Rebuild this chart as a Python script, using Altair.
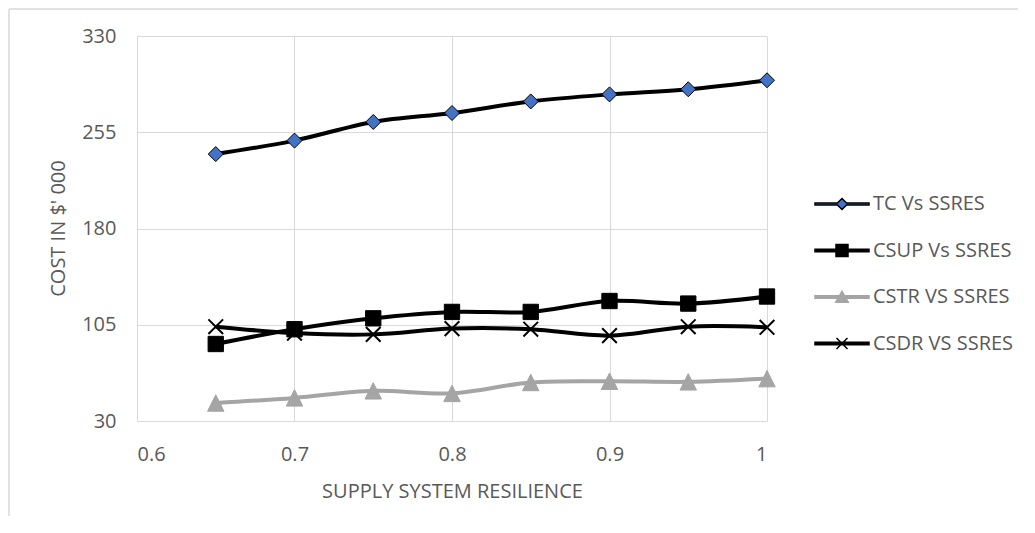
import altair as alt
import pandas as pd

# ---- data ----
x_vals = [0.65, 0.7, 0.75, 0.8, 0.85, 0.9, 0.95, 1.0]
tc = [238, 248.5, 263, 270, 279, 284.5, 288.5, 295.5]
csup = [90, 101.5, 110, 115, 115, 123.5, 121.5, 127]
cstr = [44, 48, 53.5, 51.5, 60, 61, 60.5, 63]
csdr = [103.5, 98.5, 97.5, 102, 101.5, 96.5, 103.5, 103]
series_names = ["TC Vs SSRES", "CSUP Vs SSRES", "CSTR VS SSRES", "CSDR VS SSRES"]
x_ticks = [0.6, 0.7, 0.8, 0.9, 1.0]
y_ticks = [30, 105, 180, 255, 330]

# ---- styles ----
line_colors = ["#000000", "#000000", "#A5A5A5", "#000000"]
marker_fills = ["#4472C4", "#000000", "#A5A5A5", "transparent"]
marker_strokes = ["#000000", "#000000", "#A5A5A5", "#000000"]
marker_shapes = ["diamond", "square", "M0,-1L1,1L-1,1Z", "M-1,-1L1,1M-1,1L1,-1"]
marker_sizes = [225, 235, 270, 215]
marker_stroke_widths = [1, 1, 1, 2]

# legend symbols: a line segment with the marker in its middle
legend_fills = ["#4472C4", "#000000", "#A5A5A5", "#000000"]
legend_strokes = ["#000000", "#000000", "#A5A5A5", "#000000"]
legend_shapes = [
    "M-5.4,-0.18L-0.92,-0.18L0,-1.1L0.92,-0.18L5.4,-0.18L5.4,0.18L0.92,0.18L0,1.1L-0.92,0.18L-5.4,0.18Z",
    "M-5.4,-0.25H5.4V0.25H-5.4ZM-1.2,-1.2H1.2V1.2H-1.2Z",
    "M-5.4,-0.25H5.4V0.25H-5.4ZM0,-1.15L1.25,1.05L-1.25,1.05Z",
    "M-5.4,-0.25H5.4V0.25H-5.4ZM-1.1,-1.1L1.1,1.1M-1.1,1.1L1.1,-1.1",
]

rows = []
for name, vals in zip(series_names, [tc, csup, cstr, csdr]):
    for xv, yv in zip(x_vals, vals):
        rows.append({"x": xv, "y": yv, "series": name})
df = pd.DataFrame(rows)

FONT = "Open Sans"
TXT = "#595959"
GRID = "#D9D9D9"

x_enc = alt.X("x:Q", scale=alt.Scale(domain=[0.6, 1.0], nice=False, zero=False),
              axis=alt.Axis(values=x_ticks, format="~g", title="SUPPLY SYSTEM RESILIENCE",
                            grid=True, gridColor=GRID, domain=False, ticks=False, tickSize=0,
                            labelPadding=23, labelFont=FONT, labelFontSize=20, labelColor=TXT,
                            titleFont=FONT, titleFontSize=20, titleColor=TXT, titleFontWeight="normal",
                            titleY=76, titleBaseline="alphabetic"))
y_enc = alt.Y("y:Q", scale=alt.Scale(domain=[30, 330], nice=False, zero=False),
              axis=alt.Axis(values=y_ticks, title="COST IN $' 000",
                            grid=True, gridColor=GRID, domain=False, ticks=False, tickSize=0,
                            labelPadding=21, labelFont=FONT, labelFontSize=20, labelColor=TXT,
                            titleFont=FONT, titleFontSize=20, titleColor=TXT, titleFontWeight="normal",
                            titleX=-73, titleY=192, titleBaseline="alphabetic"))

line_layers = []
point_layers = []
for i, name in enumerate(series_names):
    base = alt.Chart(df).transform_filter(alt.datum.series == name)
    line_layers.append(
        base.mark_line(interpolate="catmull-rom", strokeWidth=4, color=line_colors[i]).encode(
            x=x_enc, y=y_enc)
    )
    point_layers.append(
        base.mark_point(
            filled=True, opacity=1, shape=marker_shapes[i], size=marker_sizes[i],
            fill=marker_fills[i], stroke=marker_strokes[i], strokeWidth=marker_stroke_widths[i],
        ).encode(x="x:Q", y="y:Q")
    )

legend = alt.Legend(orient="none", legendX=695, legendY=158, title=None,
                    symbolSize=100, symbolStrokeWidth=1.5, symbolOpacity=1,
                    rowPadding=26.5, labelOffset=21, labelColor=TXT,
                    labelFont=FONT, labelFontSize=20, labelLimit=400)

# invisible marks whose only job is to carry the legend
legend_layer = alt.Chart(df).mark_point(filled=False, opacity=0).encode(
    x="x:Q", y="y:Q",
    color=alt.Color("series:N", scale=alt.Scale(domain=series_names, range=legend_strokes), legend=legend),
    fill=alt.Fill("series:N", scale=alt.Scale(domain=series_names, range=legend_fills), legend=legend),
    shape=alt.Shape("series:N", scale=alt.Scale(domain=series_names, range=legend_shapes), legend=legend),
)

frame = pd.DataFrame({"k": [0]})
left_border = alt.Chart(frame).mark_rule(color=GRID, strokeWidth=1.5).encode(
    x=alt.value(-128), y=alt.value(-27), y2=alt.value(480))
top_border = alt.Chart(frame).mark_rule(color=GRID, strokeWidth=1.5).encode(
    x=alt.value(-128), x2=alt.value(881), y=alt.value(-27))

chart = alt.layer(left_border, top_border, *line_layers, *point_layers, legend_layer).properties(
    width=630, height=385,
    padding={"left": 129, "top": 28, "right": 251, "bottom": 95},
    autosize=alt.AutoSizeParams(type="none"),
).configure_view(stroke=None)

chart.save("out.html", embed_options={"renderer": "svg", "actions": False})
